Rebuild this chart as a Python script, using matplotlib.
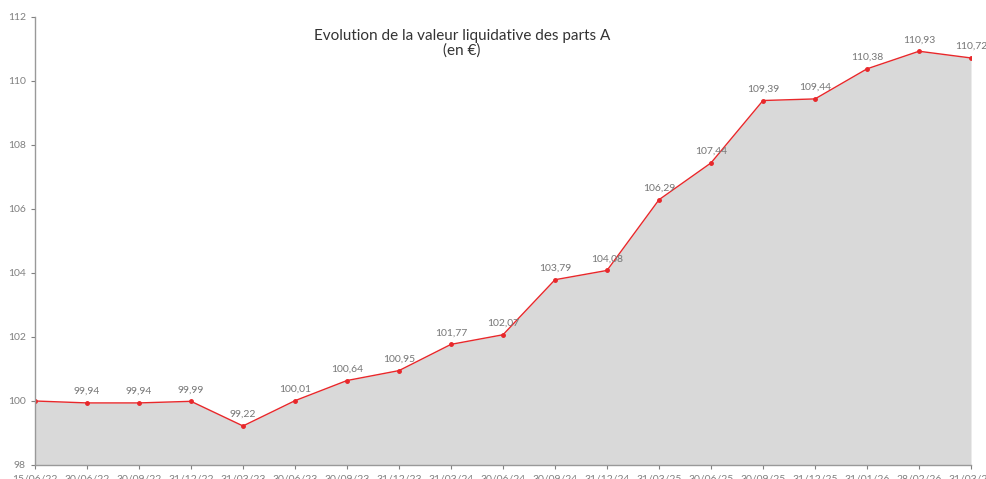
import matplotlib
matplotlib.use('Agg')
import matplotlib.pyplot as plt

dates = ['15/06/22', '30/06/22', '30/09/22', '31/12/22', '31/03/23', '30/06/23',
         '30/09/23', '31/12/23', '31/03/24', '30/06/24', '30/09/24', '31/12/24',
         '31/03/25', '30/06/25', '30/09/25', '31/12/25', '31/01/26', '28/02/26',
         '31/03/26']
nav = [100.00, 99.94, 99.94, 99.99, 99.22, 100.01, 100.64, 100.95, 101.77,
       102.07, 103.79, 104.08, 106.29, 107.44, 109.39, 109.44, 110.38, 110.93,
       110.72]
y_ticks = [98, 100, 102, 104, 106, 108, 110, 112]

plt.rcParams['font.family'] = ['Lato', 'DejaVu Sans']

fig = plt.figure(figsize=(9.87, 4.79), dpi=100)
ax = fig.add_axes([35 / 987, 1 - 465 / 479, (971 - 35) / 987, (465 - 17) / 479])

x = list(range(len(dates)))
ax.fill_between(x, 98, nav, color='#d9d9d9', linewidth=0)
ax.plot(x, nav, color='#e8282b', linewidth=1.0, marker='o', markersize=2.5)

# labels on every point except the first (100,00)
for xi, v in zip(x[1:], nav[1:]):
    ax.annotate('{:.2f}'.format(v).replace('.', ','), (xi, v),
                xytext=(0, 5), textcoords='offset points',
                ha='center', va='bottom', fontsize=7.5, color='#767676')

ax.set_xlim(0, len(dates) - 1)
ax.set_ylim(98, 112)
ax.set_yticks(y_ticks)
ax.set_xticks(x)
ax.set_xticklabels(dates)
ax.tick_params(labelsize=7.5, colors='#808080', length=3, width=0.8)

for side in ['top', 'right']:
    ax.spines[side].set_visible(False)
for side in ['left', 'bottom']:
    ax.spines[side].set_color('#999999')
    ax.spines[side].set_linewidth(1.0)

fig.text(0.468, 0.94, 'Evolution de la valeur liquidative des parts A\n(en \u20ac)',
         ha='center', va='top', fontsize=11, color='#333333', linespacing=1.05)

fig.savefig('out.png', dpi=100)
